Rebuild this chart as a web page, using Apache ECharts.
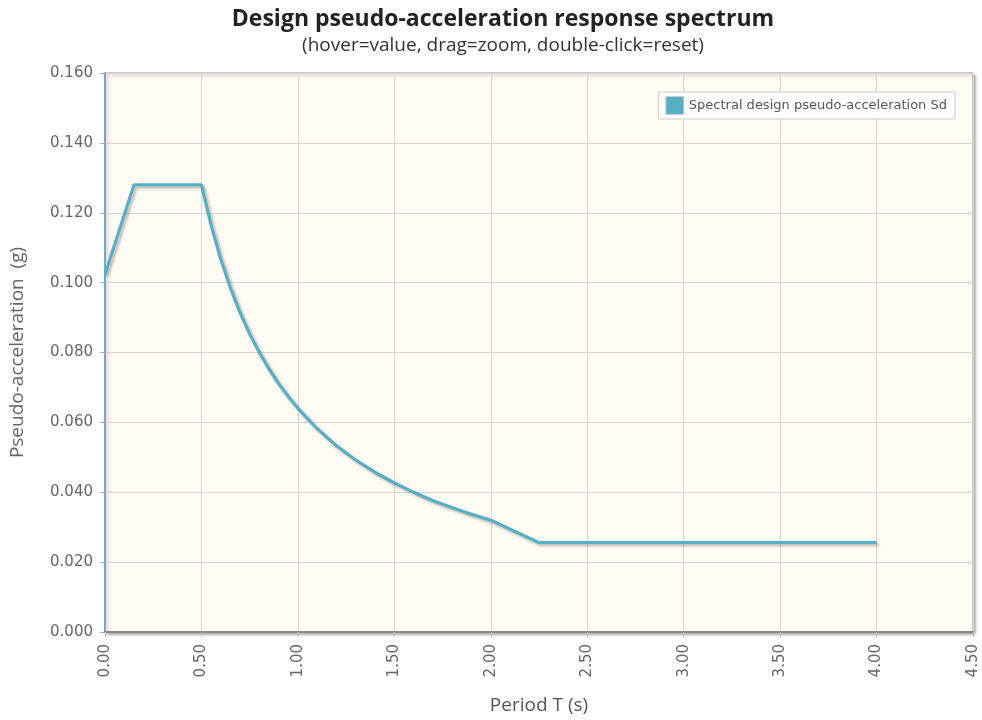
<!DOCTYPE html>
<html>
<head>
<meta charset="utf-8">
<script src="https://cdn.jsdelivr.net/npm/echarts@6/dist/echarts.min.js"></script>
<style>
  html, body { margin: 0; padding: 0; background: #fff; }
  #chart { width: 982px; height: 720px; }
</style>
</head>
<body>
<div id="chart"></div>
<script>
// Period T (s) and spectral pseudo-acceleration Sd (g)
const periods = [0.0, 0.15, 0.5, 0.55, 0.6, 0.65, 0.7, 0.75, 0.8, 0.85, 0.9, 0.95, 1.0, 1.1, 1.2, 1.3, 1.4, 1.5, 1.6, 1.7, 1.8, 1.9, 2.0, 2.25, 4.0]
const sdValues = [0.1024, 0.128, 0.128, 0.1164, 0.1067, 0.0985, 0.0914, 0.0853, 0.080, 0.0753, 0.0711, 0.0674, 0.064, 0.0582, 0.0533, 0.0492, 0.0457, 0.0427, 0.040, 0.0376, 0.0356, 0.0337, 0.032, 0.0256, 0.0256]

const seriesName = 'Spectral design pseudo-acceleration Sd'
const lineColor = '#55aec4'

const chart = echarts.init(document.getElementById('chart'))

chart.setOption({
  animation: false,
  title: {
    text: 'Design pseudo-acceleration response spectrum',
    subtext: '(hover=value, drag=zoom, double-click=reset)',
    left: 498,
    textAlign: 'center',
    top: 3,
    itemGap: 5,
    textStyle: { fontFamily: 'Open Sans', fontWeight: 'bold', fontSize: 23, color: '#222' },
    subtextStyle: { fontFamily: 'Open Sans', fontSize: 19, color: '#333' },
  },
  legend: {
    data: [{ name: seriesName, icon: 'rect' }],
    right: 27,
    top: 92,
    orient: 'vertical',
    backgroundColor: '#fff',
    borderColor: '#ccc',
    borderWidth: 1,
    padding: [4, 8, 4, 7],
    itemWidth: 18,
    itemHeight: 18,
    itemGap: 4,
    itemStyle: { borderColor: '#ccc', borderWidth: 1 },
    textStyle: { fontFamily: 'DejaVu Sans', fontSize: 13, color: '#555' },
  },
  grid: {
    left: 105,
    right: 9,
    top: 73,
    bottom: 88,
    outerBoundsMode: 'none',
    containLabel: false,
    show: true,
    backgroundColor: '#fffcf4',
    borderColor: '#999',
    borderWidth: 1,
    shadowColor: 'rgba(0,0,0,0.35)',
    shadowBlur: 3,
    shadowOffsetX: 2,
    shadowOffsetY: 2,
  },
  xAxis: {
    type: 'value',
    min: 0,
    max: 4.5,
    interval: 0.5,
    name: 'Period T (s)',
    nameLocation: 'middle',
    nameGap: 64,
    nameTextStyle: { fontFamily: 'Open Sans', fontSize: 19, color: '#555' },
    axisLine: { show: true, lineStyle: { color: '#888', width: 2 } },
    axisTick: { show: true, length: 5, lineStyle: { color: '#bbb' } },
    axisLabel: {
      rotate: 90,
      margin: 12,
      fontFamily: 'DejaVu Sans',
      fontSize: 15,
      color: '#666',
      formatter: v => v.toFixed(2),
    },
    splitLine: { show: true, lineStyle: { color: '#d6d6d6', width: 1 } },
  },
  yAxis: {
    type: 'value',
    min: 0,
    max: 0.16,
    interval: 0.02,
    name: 'Pseudo-acceleration  (g)',
    nameLocation: 'middle',
    nameGap: 78,
    nameTextStyle: { fontFamily: 'Open Sans', fontSize: 19, color: '#666' },
    axisLine: { show: true, lineStyle: { color: '#5ab4cb', width: 2 } },
    axisTick: { show: true, length: 5, lineStyle: { color: '#aaa' } },
    axisLabel: {
      margin: 12,
      fontFamily: 'DejaVu Sans',
      fontSize: 15,
      color: '#666',
      formatter: v => v.toFixed(3),
    },
    splitLine: { show: true, lineStyle: { color: '#d6d6d6', width: 1 } },
  },
  series: [
    {
      name: seriesName,
      type: 'line',
      data: periods.map((t, i) => [t, sdValues[i]]),
      showSymbol: false,
      color: lineColor,
      lineStyle: {
        color: lineColor,
        width: 3,
        shadowColor: 'rgba(0,0,0,0.3)',
        shadowBlur: 3,
        shadowOffsetX: 2,
        shadowOffsetY: 2,
      },
    },
  ],
})
</script>
</body>
</html>
